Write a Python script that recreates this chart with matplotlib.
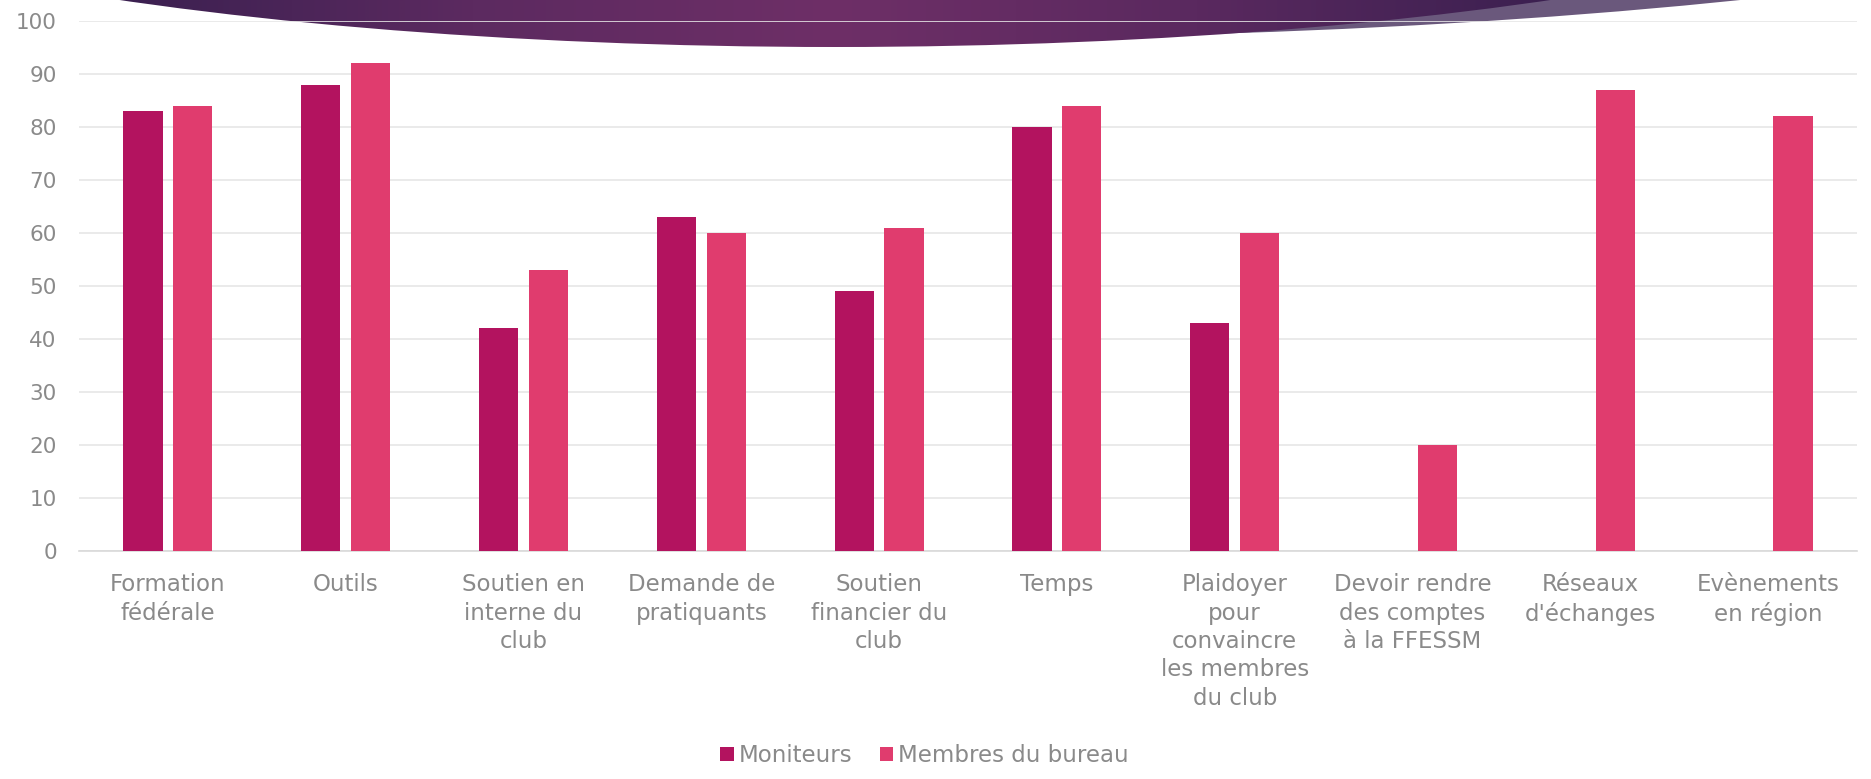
import numpy as np
import matplotlib
matplotlib.use("Agg")
import matplotlib.pyplot as plt
from matplotlib.patches import Ellipse
from matplotlib.colors import LinearSegmentedColormap

plt.rcParams["font.family"] = ["DejaVu Sans"]

# données
categories = ["Formation\nfédérale", "Outils", "Soutien en\ninterne du\nclub",
              "Demande de\npratiquants", "Soutien\nfinancier du\nclub", "Temps",
              "Plaidoyer\npour\nconvaincre\nles membres\ndu club",
              "Devoir rendre\ndes comptes\nà la FFESSM", "Réseaux\nd'échanges",
              "Evènements\nen région"]
moniteurs = [83, 88, 42, 63, 49, 80, 43, 0, 0, 0]
membres_bureau = [84, 92, 53, 60, 61, 84, 60, 20, 87, 82]
series_names = ["Moniteurs", "Membres du bureau"]
yticks = [0, 10, 20, 30, 40, 50, 60, 70, 80, 90, 100]

col_mon = "#b3135f"
col_mem = "#e03c6e"
txt_col = "#8a8a8a"
fs = 16.5

W, H = 1871, 779
fig = plt.figure(figsize=(W / 100, H / 100), dpi=100)

# bandeau décoratif en haut (coordonnées pixels)
bg = fig.add_axes([0, 0, 1, 1], zorder=0)
bg.set_xlim(0, W)
bg.set_ylim(H, 0)
bg.axis("off")
b = 250
light = Ellipse((940, 38 - b), 2 * 1510, 2 * b, facecolor="#6a587c", edgecolor="none")
bg.add_patch(light)
dark = Ellipse((835, 47 - b), 2 * 1226, 2 * b, facecolor="none", edgecolor="none")
bg.add_patch(dark)
cmap = LinearSegmentedColormap.from_list("band", ["#3a2050", "#5c2a60", "#6e2f67", "#5a295f", "#3b2050"])
grad = np.linspace(0, 1, 512).reshape(1, -1)
im = bg.imshow(grad, cmap=cmap, extent=[110, 1560, 80, -200], aspect="auto", zorder=2)
im.set_clip_path(dark)
bg.set_xlim(0, W)
bg.set_ylim(H, 0)

# graphique
ax = fig.add_axes([79 / W, 1 - 551 / H, (1857 - 79) / W, (551 - 21) / H], zorder=1)
ax.set_facecolor("none")
x = np.arange(len(categories))
width = 0.22
off = 0.14
ax.bar(x - off, moniteurs, width, color=col_mon, label=series_names[0], zorder=3)
ax.bar(x + off, membres_bureau, width, color=col_mem, label=series_names[1], zorder=3)

ax.set_xlim(-0.5, len(categories) - 0.5)
ax.set_ylim(0, 100)
ax.set_yticks(yticks)
ax.set_xticks(x)
ax.set_xticklabels(categories, fontsize=fs, color=txt_col, linespacing=1.3)
ax.tick_params(axis="y", length=0, pad=16, labelsize=15.5, labelcolor=txt_col)
ax.tick_params(axis="x", length=0, pad=16)
ax.yaxis.grid(True, color="#e6e6e6", linewidth=1.2, zorder=0)
ax.set_axisbelow(True)
for s in ["top", "right", "left"]:
    ax.spines[s].set_visible(False)
ax.spines["bottom"].set_color("#d9d9d9")
ax.spines["bottom"].set_linewidth(1.2)

fig.legend(loc="center", bbox_to_anchor=(0.494, 0.03), ncol=2, frameon=False,
           fontsize=fs, labelcolor=txt_col, handlelength=0.6, handleheight=0.6,
           handletextpad=0.2, columnspacing=1.2)

fig.savefig("out.png", dpi=100)
